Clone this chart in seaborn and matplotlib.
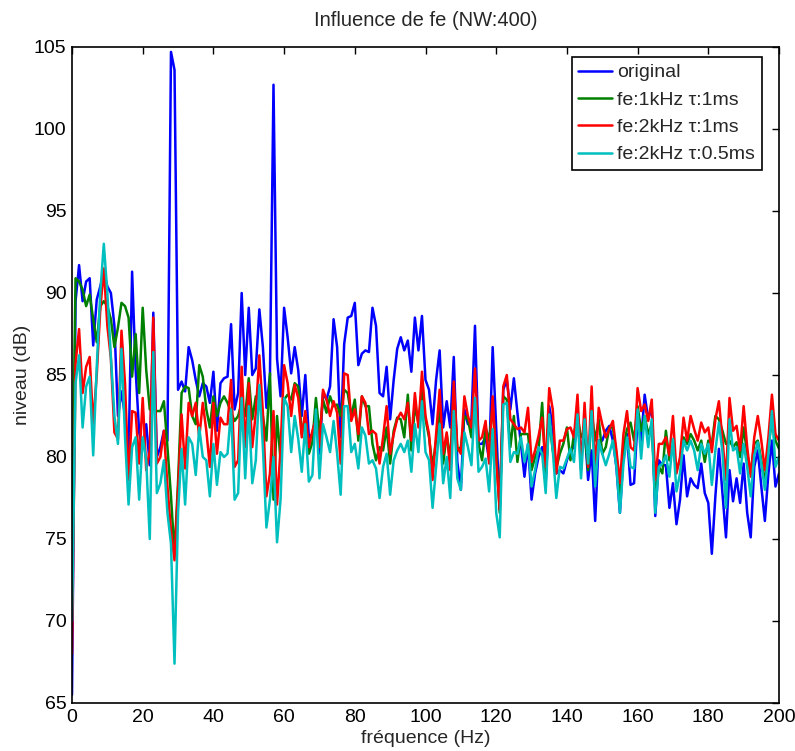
import numpy as np
import pandas as pd
import matplotlib
matplotlib.use("Agg")
import matplotlib.pyplot as plt
import seaborn as sns

# frequency axis (Hz), one point per Hz
freq = list(range(0, 201))

# spectra (dB)
original = [
    65.5, 89.5, 91.7, 89.5, 90.7, 90.9, 86.8, 89.6, 90.4, 91.3,
    90.4, 90.0, 88.0, 82.5, 84.0, 82.5, 80.0, 91.3, 85.3, 81.5,
    80.5, 82.0, 79.5, 88.8, 80.0, 80.6, 81.6, 81.0, 104.7, 103.6,
    84.1, 84.6, 84.0, 86.7, 85.9, 84.7, 83.7, 84.5, 84.3, 83.3,
    85.2, 81.6, 84.5, 84.8, 84.9, 88.1, 82.9, 83.9, 90.0, 85.0,
    89.1, 85.0, 85.4, 89.0, 86.7, 83.0, 85.0, 102.7, 86.0, 83.7,
    89.1, 87.3, 85.1, 86.7, 85.3, 82.5, 85.0, 81.2, 81.4, 82.5,
    80.2, 83.9, 83.5, 84.3, 88.4, 86.7, 81.2, 86.9, 88.5, 88.6,
    89.4, 85.6, 86.3, 86.5, 86.4, 89.1, 88.0, 83.9, 83.7, 85.5,
    82.3, 84.7, 86.6, 87.3, 86.5, 87.1, 85.2, 88.5, 86.5, 88.6,
    84.7, 84.1, 82.0, 84.7, 86.5, 81.8, 83.4, 81.8, 86.1, 79.7,
    78.0, 82.9, 82.0, 82.3, 88.0, 80.8, 80.8, 81.2, 79.8, 86.7,
    81.8, 76.8, 84.1, 84.7, 82.9, 84.8, 82.7, 80.8, 78.8, 80.8,
    77.4, 79.0, 80.0, 80.6, 78.4, 83.1, 81.8, 79.0, 79.2, 79.0,
    79.8, 80.4, 80.6, 82.0, 80.2, 81.8, 78.6, 80.4, 76.1, 81.0,
    81.0, 81.6, 81.9, 81.0, 79.4, 76.6, 80.2, 81.4, 78.3, 78.4,
    82.3, 81.0, 83.8, 82.3, 83.1, 76.4, 79.8, 79.5, 79.5, 76.9,
    78.4, 75.9, 77.4, 80.1, 77.6, 78.7, 78.3, 78.1, 79.6, 77.8,
    77.2, 74.1, 77.6, 80.5, 77.8, 75.1, 79.2, 77.3, 78.7, 77.2,
    79.6, 76.6, 75.1, 79.4, 80.4, 78.2, 76.1, 79.0, 81.0, 78.2,
    79.0,
]

fe1k_tau1 = [
    75.0, 90.9, 90.7, 90.2, 89.2, 89.9, 88.4, 87.0, 89.2, 89.5,
    89.2, 88.4, 86.7, 87.9, 89.4, 89.2, 88.5, 84.9, 87.5, 83.9,
    89.1, 85.3, 82.9, 82.9, 82.8, 82.8, 83.4, 80.6, 77.6, 74.1,
    78.5, 83.9, 84.3, 84.2, 82.5, 82.0, 85.6, 84.9, 82.9, 81.8,
    83.7, 82.5, 83.3, 83.7, 83.3, 82.7, 82.2, 82.5, 83.3, 82.5,
    84.8, 82.3, 83.7, 83.5, 82.5, 81.0, 85.1, 77.4, 82.5, 79.8,
    83.5, 83.8, 83.5, 84.5, 84.3, 81.4, 82.5, 80.2, 80.9, 83.6,
    81.4, 83.5, 82.7, 83.7, 83.1, 83.2, 82.5, 84.1, 83.9, 82.5,
    83.5, 81.0, 83.7, 83.1, 83.1, 80.8, 79.8, 80.6, 80.4, 81.8,
    79.6, 81.6, 82.4, 82.3, 81.2, 83.8, 80.4, 83.1, 82.1, 84.1,
    82.3, 81.2, 79.4, 81.0, 83.1, 79.6, 81.4, 79.8, 84.1, 80.4,
    80.6, 82.5, 82.3, 81.2, 83.5, 80.8, 79.8, 81.8, 81.0, 83.1,
    80.2, 76.6, 83.7, 83.5, 80.6, 82.5, 79.7, 81.4, 81.4, 81.4,
    79.2, 80.0, 80.5, 83.3, 79.0, 82.3, 80.4, 79.3, 80.2, 80.8,
    81.8, 79.8, 81.4, 82.5, 81.2, 81.6, 79.2, 82.7, 81.0, 82.3,
    80.2, 80.6, 81.8, 81.8, 80.2, 77.4, 80.6, 81.7, 82.1, 81.0,
    83.1, 81.6, 82.5, 81.4, 82.0, 77.4, 79.4, 79.0, 81.6, 79.8,
    80.6, 79.2, 79.8, 81.2, 80.8, 81.4, 81.0, 80.4, 81.0, 79.7,
    81.0, 80.8, 82.5, 82.3, 81.6, 80.8, 81.0, 80.6, 80.9, 80.0,
    81.8, 80.2, 79.0, 80.8, 81.0, 79.8, 78.4, 80.6, 82.3, 81.0,
    80.5,
]

fe2k_tau1 = [
    68.0, 85.7, 87.8, 83.9, 85.5, 86.1, 82.0, 85.0, 89.0, 91.5,
    88.0, 86.0, 81.5, 81.1, 87.7, 84.5, 78.6, 82.8, 82.7, 79.6,
    83.6, 79.2, 80.4, 88.5, 79.6, 80.0, 81.6, 78.2, 75.5, 73.7,
    78.0, 82.6, 79.3, 83.3, 82.5, 83.3, 81.2, 83.3, 81.6, 79.4,
    83.3, 80.2, 82.4, 82.0, 82.0, 84.7, 79.4, 79.8, 85.5, 80.6,
    84.5, 80.6, 82.7, 86.2, 82.7, 77.6, 79.0, 82.8, 77.1, 80.5,
    85.6, 84.5, 82.5, 84.4, 83.6, 81.2, 82.8, 80.6, 81.6, 82.3,
    80.6, 84.1, 83.5, 82.5, 83.4, 82.7, 79.6, 85.1, 85.0, 82.2,
    82.9, 81.4, 83.7, 83.3, 81.4, 81.6, 81.4, 79.6, 81.2, 83.1,
    80.2, 81.4, 82.3, 82.7, 82.3, 83.3, 81.0, 83.9, 81.8, 85.2,
    82.5, 81.4, 78.6, 81.4, 84.1, 80.2, 81.5, 79.2, 84.6, 80.6,
    80.2, 83.7, 82.5, 81.8, 85.4, 81.0, 81.2, 82.2, 79.6, 83.7,
    79.8, 76.8, 84.3, 85.0, 82.3, 82.0, 81.7, 81.8, 81.5, 83.0,
    79.7, 80.4, 81.3, 82.4, 79.4, 84.2, 82.9, 79.0, 81.0, 81.0,
    81.7, 81.8, 81.2, 83.8, 79.2, 83.3, 79.4, 84.3, 79.0, 83.0,
    82.0, 81.2, 81.7, 82.2, 80.4, 78.4, 81.4, 82.8, 80.6, 80.4,
    84.2, 82.8, 83.2, 82.2, 83.5, 78.6, 80.8, 80.8, 81.2, 80.1,
    82.5, 79.0, 80.0, 82.4, 81.0, 82.5, 81.7, 81.0, 82.1, 81.5,
    81.8, 80.3, 82.3, 83.4, 81.1, 78.6, 83.6, 81.6, 81.9, 80.4,
    83.1, 80.6, 78.8, 81.2, 82.5, 81.0, 79.2, 81.2, 83.8, 81.4,
    81.0,
]

fe2k_tau05 = [
    70.0, 84.5, 86.2, 81.8, 84.3, 84.9, 80.1, 85.5, 90.0, 93.0,
    90.0, 86.1, 82.5, 80.8, 86.6, 81.2, 77.1, 80.6, 81.2, 77.4,
    81.2, 79.8, 75.0, 86.4, 77.8, 78.4, 79.8, 76.6, 74.7, 67.4,
    76.6, 80.5, 77.1, 81.2, 80.8, 78.9, 81.8, 80.0, 79.8, 77.6,
    80.8, 78.3, 80.3, 80.0, 80.2, 82.9, 77.4, 77.8, 83.6, 78.7,
    83.1, 78.4, 79.8, 84.4, 80.6, 75.7, 77.4, 80.0, 74.8, 77.4,
    83.6, 83.1, 80.3, 82.5, 81.1, 79.1, 82.0, 78.5, 78.9, 82.9,
    78.7, 82.0, 81.2, 80.3, 82.2, 80.2, 77.7, 83.1, 83.1, 80.3,
    80.8, 79.3, 81.8, 81.3, 79.6, 79.8, 79.3, 77.5, 79.4, 80.2,
    77.7, 79.8, 80.4, 80.8, 80.3, 81.0, 79.1, 82.0, 80.3, 83.4,
    80.3, 79.8, 76.9, 79.4, 82.0, 78.4, 80.0, 77.5, 82.8, 78.7,
    78.0, 81.5, 80.6, 79.5, 83.6, 79.1, 79.4, 79.9, 77.9, 81.7,
    76.6, 75.1, 83.2, 83.3, 79.7, 80.3, 80.2, 81.2, 79.7, 80.8,
    78.2, 79.2, 80.6, 80.2, 77.8, 82.6, 80.4, 77.5, 79.4, 79.3,
    79.9, 80.5, 79.7, 82.6, 78.7, 82.3, 79.6, 82.8, 78.2, 81.0,
    80.2, 79.5, 80.2, 81.0, 79.4, 76.6, 79.6, 81.2, 79.4, 79.3,
    82.9, 79.9, 82.5, 80.6, 82.3, 76.6, 79.4, 79.6, 80.1, 78.8,
    81.1, 77.9, 79.0, 81.0, 80.4, 81.0, 80.4, 79.2, 80.8, 80.2,
    80.8, 78.3, 80.4, 82.1, 80.3, 76.9, 82.3, 80.4, 80.6, 79.0,
    80.8, 79.4, 77.6, 80.1, 80.9, 79.6, 78.0, 80.2, 82.8, 79.4,
    80.0,
]

labels = ["original", "fe:1kHz τ:1ms", "fe:2kHz τ:1ms", "fe:2kHz τ:0.5ms"]
colors = ["#0000ff", "#008000", "#ff0000", "#00bfbf"]

df = pd.concat([
    pd.DataFrame({"freq": freq, "niveau": vals, "serie": lab})
    for vals, lab in zip([original, fe1k_tau1, fe2k_tau1, fe2k_tau05], labels)
])

sns.set_style("white")
plt.rcParams["font.family"] = ["Liberation Sans", "DejaVu Sans"]
plt.rcParams["font.size"] = 14

fig = plt.figure(figsize=(7.95, 7.51), dpi=100)
ax = fig.add_axes([72 / 795, 48 / 751, 707 / 795, 656 / 751])

sns.lineplot(data=df, x="freq", y="niveau", hue="serie", hue_order=labels,
             palette=colors, estimator=None, sort=False, linewidth=1.8, ax=ax)

ax.set_xlim(0, 200)
ax.set_ylim(65, 105)
ax.set_xticks(range(0, 201, 20))
ax.set_yticks(range(65, 106, 5))
ax.tick_params(direction="in", top=True, right=True, length=5, width=1,
               labelsize=14, pad=4, colors="black")
for sp in ax.spines.values():
    sp.set_color("black")
    sp.set_linewidth(1.2)

ax.set_title("Influence de fe (NW:400)", fontsize=14.5, pad=15)
ax.set_xlabel("fréquence (Hz)", fontsize=14, labelpad=3)
ax.set_ylabel("niveau (dB)", fontsize=14, labelpad=2)

handles, labs = ax.get_legend_handles_labels()
leg = ax.legend(handles, labs, loc="upper right",
                bbox_to_anchor=(690 / 707, 1 - 10 / 656), borderaxespad=0,
                fancybox=False, framealpha=1, edgecolor="black",
                handlelength=1.75, handletextpad=0.25, borderpad=0.35,
                labelspacing=0.5, fontsize=14)
leg.get_frame().set_linewidth(1.2)

fig.savefig("out.png", dpi=100)
